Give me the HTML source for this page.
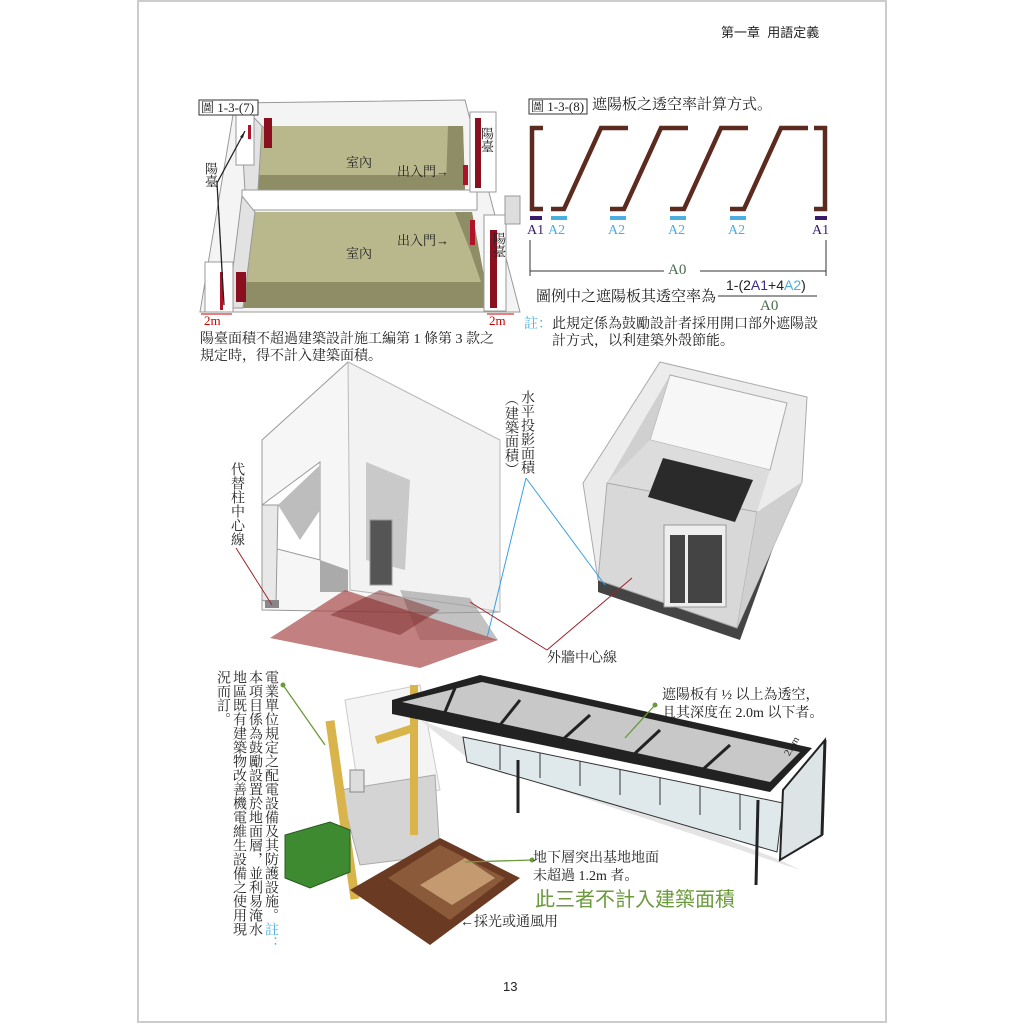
<!DOCTYPE html>
<html><head><meta charset="utf-8"><style>
html,body{margin:0;padding:0;background:#fff;}
body{width:1024px;height:1024px;position:relative;overflow:hidden;font-family:"Liberation Serif","Noto Serif CJK SC","Noto Sans CJK TC",serif;color:#222;}
.t{position:absolute;white-space:nowrap;font-size:14px;line-height:17px;}
.v{position:absolute;writing-mode:vertical-rl;font-size:14px;line-height:16px;letter-spacing:0px;white-space:nowrap;}
svg{position:absolute;left:0;top:0;}
</style></head><body>
<svg width="1024" height="1024" viewBox="0 0 1024 1024">
<rect x="138" y="1" width="748" height="1021" fill="none" stroke="#ccc" stroke-width="2"/>

<!-- Fig 1-3-(7) -->
<g stroke="#999" stroke-width="1">
<polygon points="235,103 465,100 520,312 200,312" fill="#f4f4f4"/>
<polygon points="262,126 463,126 465,190 258,190" fill="#b9b88c" stroke="none"/>
<polygon points="258,175 465,175 465,190 258,190" fill="#8f8d66" stroke="none"/>
<polygon points="240,103 262,126 258,190 245,192" fill="#e2e2e2"/>
<polygon points="448,126 463,126 465,190 446,185" fill="#8f8d66" stroke="none"/>
<rect x="242" y="190" width="235" height="20" fill="#fff"/>
<polygon points="255,212 472,212 490,308 243,308" fill="#b9b88c" stroke="none"/>
<polygon points="245,282 490,282 490,308 243,308" fill="#8f8d66" stroke="none"/>
<polygon points="455,212 472,212 490,308 470,250" fill="#8f8d66" stroke="none"/>
<polygon points="242,196 255,212 243,308 228,308" fill="#e2e2e2"/>
<rect x="236" y="110" width="18" height="55" fill="#fff"/>
<rect x="470" y="112" width="26" height="80" fill="#fff"/>
<rect x="484" y="215" width="22" height="96" fill="#fff"/>
<rect x="205" y="262" width="28" height="50" fill="#fff"/>
</g>
<rect x="248" y="125" width="3" height="14" fill="#b0122a"/>
<rect x="264" y="118" width="8" height="30" fill="#8a1020"/>
<rect x="475" y="118" width="6" height="70" fill="#8a1020"/>
<rect x="490" y="230" width="7" height="78" fill="#8a1020"/>
<rect x="220" y="272" width="3" height="38" fill="#b0122a"/>
<rect x="236" y="272" width="10" height="30" fill="#8a1020"/>
<rect x="463" y="165" width="5" height="20" fill="#b0122a"/>
<rect x="470" y="220" width="5" height="25" fill="#b0122a"/>
<rect x="505" y="196" width="15" height="28" fill="#ddd" stroke="#999"/>
<g stroke="#222" stroke-width="1.3" fill="none">
<line x1="217" y1="183" x2="245" y2="131"/><line x1="217" y1="183" x2="224" y2="305"/>
</g>
<polygon points="245,131 240,137 243,138" fill="#222"/>
<g stroke="#c00" stroke-width="1"><line x1="201" y1="314" x2="232" y2="314"/><line x1="487" y1="314" x2="514" y2="314"/></g>
<rect x="199" y="100" width="59" height="15" fill="#fff" stroke="#333"/>

<!-- Fig 1-3-(8) -->
<rect x="529" y="99" width="58" height="15" fill="#fff" stroke="#333"/>
<g stroke="#5c2a1e" stroke-width="4.5" fill="none" stroke-linecap="butt">
<polyline points="543,128 532,128 532,209 543,209"/>
<polyline points="551,209 564,209 601,128 628,128"/>
<polyline points="610,209 624,209 661,128 688,128"/>
<polyline points="670,209 684,209 721,128 748,128"/>
<polyline points="730,209 744,209 781,128 808,128"/>
<polyline points="814,128 825,128 825,209 814,209"/>
</g>
<g fill="#3a1a6a"><rect x="530" y="216" width="12" height="4"/><rect x="815" y="216" width="12" height="4"/></g>
<g fill="#4aaee0"><rect x="551" y="216" width="16" height="4"/><rect x="610" y="216" width="16" height="4"/><rect x="670" y="216" width="16" height="4"/><rect x="730" y="216" width="16" height="4"/></g>
<g stroke="#333" stroke-width="1"><line x1="530" y1="240" x2="530" y2="276"/><line x1="826" y1="240" x2="826" y2="276"/><line x1="530" y1="271" x2="664" y2="271"/><line x1="700" y1="271" x2="826" y2="271"/><line x1="718" y1="296" x2="817" y2="296"/></g>

<!-- middle left building -->
<polygon points="262,440 348,362 500,440 500,612 440,613 262,610" fill="#f6f6f6" stroke="#999"/>
<polygon points="348,362 500,440 500,612 462,605 350,590" fill="#f2f2f2" stroke="#bbb"/>
<polygon points="262,505 320,462 320,560 262,545" fill="#fff" stroke="#999"/>
<polygon points="262,505 278,505 276,605 262,600" fill="#e8e8e8" stroke="#999"/>
<polygon points="278,505 320,465 320,510 300,540" fill="#bdbdbd"/>
<polygon points="366,462 410,480 405,570 366,560" fill="#c9c9c9"/>
<rect x="370" y="520" width="22" height="65" fill="#555" stroke="#999"/>
<polygon points="320,560 348,570 348,592 320,592" fill="#aaa"/>
<polygon points="400,590 470,598 498,640 420,640" fill="#999" opacity="0.6"/>
<polygon points="270,638 345,590 498,640 420,668" fill="#a84a4a" opacity="0.7"/>
<polygon points="330,615 380,590 440,610 400,635" fill="#7a2a2a" opacity="0.5"/>
<rect x="265" y="600" width="14" height="8" fill="#888"/>

<!-- middle right box -->
<polygon points="598,578 737,626 786,498 786,512 740,640 598,592" fill="#444"/>
<polygon points="583,483 660,362 807,397 802,482 737,628 598,580" fill="#ececec" stroke="#aaa"/>
<polygon points="670,375 787,403 770,470 650,440" fill="#f7f7f7" stroke="#aaa"/>
<polygon points="607,483 670,375 650,440 640,490" fill="#d0d0d0"/>
<polygon points="650,440 770,470 757,512 607,483" fill="#dcdcdc"/>
<polygon points="607,483 757,512 737,628 598,580" fill="#d8d8d8" stroke="#aaa"/>
<polygon points="757,512 802,482 737,628" fill="#cfcfcf"/>
<polygon points="663,458 753,480 735,522 648,497" fill="#2a2a2a"/>
<rect x="664" y="525" width="62" height="82" fill="#eee" stroke="#999"/>
<rect x="670" y="535" width="15" height="68" fill="#444"/><rect x="688" y="535" width="34" height="68" fill="#444"/>

<!-- middle arrows -->
<g stroke="#3aa0e0" stroke-width="1" fill="none"><line x1="526" y1="478" x2="487" y2="638"/><line x1="526" y1="478" x2="605" y2="585"/></g>
<g stroke="#a0202a" stroke-width="1" fill="none"><line x1="236" y1="548" x2="272" y2="605"/><line x1="547" y1="650" x2="470" y2="602"/><line x1="547" y1="650" x2="632" y2="578"/></g>

<!-- bottom: equipment -->
<polygon points="345,700 420,685 440,790 360,800" fill="#f4f4f4" stroke="#ccc"/>
<polygon points="340,790 435,775 440,855 360,865" fill="#d4d4d4" stroke="#aaa"/>
<rect x="338" y="720" width="9" height="180" fill="#d8b44a" transform="rotate(-8 342 810)"/>
<rect x="410" y="685" width="8" height="150" fill="#d8b44a"/>
<rect x="375" y="730" width="40" height="8" fill="#d8b44a" transform="rotate(-18 395 734)"/>
<rect x="350" y="770" width="14" height="22" fill="#ddd" stroke="#888"/>
<polygon points="285,835 330,822 350,830 350,872 310,888 285,878" fill="#3e8a30" stroke="#2a5a20"/>
<!-- brown dome -->
<polygon points="350,890 440,838 520,878 430,945" fill="#6a3a22"/>
<polygon points="388,878 440,845 505,878 450,920" fill="#8a5a3a"/>
<polygon points="420,885 465,858 495,878 452,905" fill="#c49a70"/>

<!-- pergola -->
<polygon points="420,720 780,860 800,870 470,760" fill="#e4e4e4"/>
<polygon points="463,737 783,803 777,852 467,762" fill="#dfe8ea" stroke="#333"/>
<g stroke="#333" stroke-width="1"><line x1="500" y1="745" x2="500" y2="770"/><line x1="540" y1="753" x2="540" y2="778"/><line x1="580" y1="761" x2="580" y2="786"/><line x1="620" y1="769" x2="620" y2="795"/><line x1="660" y1="778" x2="660" y2="805"/><line x1="700" y1="786" x2="700" y2="815"/><line x1="740" y1="794" x2="740" y2="830"/></g>
<polygon points="783,790 825,740 822,835 780,860" fill="#dde4e6" stroke="#222" stroke-width="2"/>
<polygon points="392,700 480,675 812,748 770,792 392,714" fill="#222"/>
<polygon points="402,702 482,682 800,752 770,782" fill="#c8c8c8"/>
<g stroke="#222" stroke-width="3"><line x1="455" y1="688" x2="445" y2="712"/><line x1="520" y1="700" x2="500" y2="725"/><line x1="590" y1="715" x2="560" y2="742"/><line x1="660" y1="730" x2="630" y2="758"/><line x1="730" y1="745" x2="700" y2="772"/></g>
<g stroke="#222" stroke-width="3"><line x1="518" y1="760" x2="518" y2="813"/><line x1="758" y1="800" x2="756" y2="885"/><line x1="825" y1="740" x2="822" y2="835"/></g>
<g stroke="#6a9a3a" stroke-width="1.3"><line x1="283" y1="685" x2="325" y2="745"/><line x1="655" y1="705" x2="625" y2="738"/><line x1="532" y1="860" x2="465" y2="862"/></g>
<g fill="#6a9a3a"><circle cx="283" cy="685" r="2.5"/><circle cx="655" cy="705" r="2.5"/><circle cx="532" cy="860" r="2.5"/></g>
</svg>

<div class="t" style="left:721px;top:24px;font-family:'Liberation Sans','Noto Sans CJK TC',sans-serif;font-size:13px;">第一章&nbsp;&nbsp;用語定義</div>

<div class="t" style="left:201px;top:99px;font-size:13px;">圖 1-3-(7)</div>
<div class="t" style="left:346px;top:154px;font-size:13px;">室內</div>
<div class="t" style="left:397px;top:163px;font-size:13px;">出入門→</div>
<div class="t" style="left:346px;top:245px;font-size:13px;">室內</div>
<div class="t" style="left:397px;top:232px;font-size:13px;">出入門→</div>
<div class="v" style="left:202px;top:162px;font-size:13px;">陽臺</div>
<div class="v" style="left:478px;top:127px;font-size:13px;">陽臺</div>
<div class="v" style="left:490px;top:232px;font-size:13px;">陽臺</div>
<div class="t" style="left:204px;top:314px;color:#c00;font-size:13px;line-height:14px;">2m</div>
<div class="t" style="left:489px;top:314px;color:#c00;font-size:13px;line-height:14px;">2m</div>
<div class="t" style="left:200px;top:331px;">陽臺面積不超過建築設計施工編第 1 條第 3 款之</div>
<div class="t" style="left:200px;top:348px;">規定時，得不計入建築面積。</div>

<div class="t" style="left:531px;top:98px;font-size:13px;">圖 1-3-(8)</div>
<div class="t" style="left:592px;top:97px;font-size:15px;">遮陽板之透空率計算方式。</div>
<div class="t" style="left:527px;top:222px;color:#3a1a6a;font-size:14px;">A1</div>
<div class="t" style="left:548px;top:222px;color:#4aaee0;">A2</div>
<div class="t" style="left:608px;top:222px;color:#4aaee0;">A2</div>
<div class="t" style="left:668px;top:222px;color:#4aaee0;">A2</div>
<div class="t" style="left:728px;top:222px;color:#4aaee0;">A2</div>
<div class="t" style="left:812px;top:222px;color:#3a1a6a;">A1</div>
<div class="t" style="left:668px;top:262px;color:#4a6a50;font-size:15px;">A0</div>
<div class="t" style="left:536px;top:289px;font-size:15px;">圖例中之遮陽板其透空率為</div>
<div class="t" style="left:726px;top:277px;font-family:'Liberation Sans',sans-serif;font-size:14px;">1-(2<span style="color:#3a2a8a">A1</span>+4<span style="color:#4aaee0">A2</span>)</div>
<div class="t" style="left:760px;top:298px;color:#4a6a50;font-size:15px;">A0</div>
<div class="t" style="left:524px;top:316px;"><span style="color:#4aaee0">註：</span>此規定係為鼓勵設計者採用開口部外遮陽設</div>
<div class="t" style="left:552px;top:333px;">計方式，以利建築外殼節能。</div>

<div class="v" style="left:228px;top:462px;">代替柱中心線</div>
<div class="v" style="left:518px;top:390px;">水平投影面積</div>
<div class="v" style="left:502px;top:392px;">（建築面積）</div>
<div class="t" style="left:547px;top:650px;">外牆中心線</div>

<div class="v" style="left:262px;top:670px;line-height:16px;">電業單位規定之配電設備及其防護設施。<span style="color:#4aaee0">註：</span></div>
<div class="v" style="left:246px;top:670px;">本項目係為鼓勵設置於地面層，並利易淹水</div>
<div class="v" style="left:230px;top:670px;">地區既有建築物改善機電維生設備之使用現</div>
<div class="v" style="left:214px;top:670px;">況而訂。</div>

<div class="t" style="left:662px;top:687px;">遮陽板有 ½ 以上為透空，</div>
<div class="t" style="left:662px;top:705px;">且其深度在 2.0m 以下者。</div>
<div class="t" style="left:782px;top:738px;font-size:10px;transform:rotate(-60deg);">2.0m</div>
<div class="t" style="left:533px;top:850px;">地下層突出基地地面</div>
<div class="t" style="left:533px;top:868px;">未超過 1.2m 者。</div>
<div class="t" style="left:535px;top:888px;font-size:20px;line-height:24px;color:#6a9a3a;font-family:'Liberation Sans','Noto Sans CJK TC',sans-serif;">此三者不計入建築面積</div>
<div class="t" style="left:460px;top:914px;">←採光或通風用</div>
<div class="t" style="left:503px;top:978px;font-family:'Liberation Sans',sans-serif;font-size:13px;">13</div>
</body></html>
